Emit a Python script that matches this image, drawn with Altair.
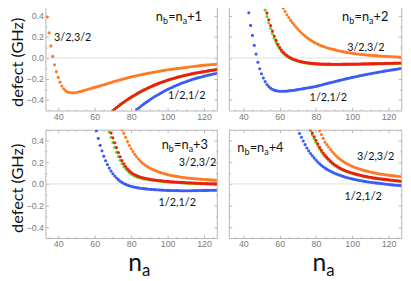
import altair as alt
import pandas as pd

NA_TICKS = [40, 60, 80, 100, 120]
NA_MINOR = [35, 45, 50, 55, 65, 70, 75, 85, 90, 95, 105, 110, 115, 125]
DEFECT_TICKS = [-0.4, -0.2, 0.0, 0.2, 0.4]
DEFECT_MINOR = [-0.3, -0.1, 0.1, 0.3, 0.5]
SERIES = ["3/2,1/2", "1/2,1/2", "1/2,3/2", "3/2,3/2"]
COLORS = ["#66d82c", "#3b5bf6", "#f01c10", "#ff7a26"]
OFFSETS = ["+1", "+2", "+3", "+4"]

# ---- panel 1: n_b = n_a + 1 ----
P1_ORANGE_START = 34
P1_ORANGE = [0.39, 0.24, 0.115, 0.015, -0.065, -0.13, -0.185, -0.23, -0.267, -0.293,
             -0.31, -0.321, -0.328, -0.331, -0.332, -0.331, -0.328, -0.324, -0.32, -0.315,
             -0.31, -0.305, -0.3, -0.295, -0.29, -0.285, -0.28, -0.275, -0.27, -0.265,
             -0.26, -0.255, -0.249, -0.244, -0.238, -0.233, -0.227, -0.222, -0.218, -0.213,
             -0.208, -0.203, -0.199, -0.194, -0.189, -0.185, -0.18, -0.176, -0.173, -0.169,
             -0.165, -0.161, -0.158, -0.154, -0.15, -0.147, -0.143, -0.14, -0.137, -0.134,
             -0.131, -0.127, -0.124, -0.121, -0.118, -0.115, -0.112, -0.11, -0.108, -0.105,
             -0.103, -0.101, -0.099, -0.097, -0.095, -0.092, -0.09, -0.088, -0.086, -0.083,
             -0.081, -0.079, -0.077, -0.075, -0.073, -0.07, -0.068, -0.067, -0.066, -0.064,
             -0.063, -0.062, -0.061, -0.059]
P1_RED_START = 70
P1_RED = [-0.5, -0.485, -0.471, -0.457, -0.444, -0.431, -0.419, -0.407, -0.395, -0.384,
          -0.373, -0.362, -0.352, -0.342, -0.332, -0.322, -0.313, -0.304, -0.295, -0.287,
          -0.279, -0.271, -0.263, -0.256, -0.249, -0.242, -0.235, -0.229, -0.223, -0.217,
          -0.211, -0.205, -0.2, -0.195, -0.19, -0.185, -0.18, -0.176, -0.171, -0.167,
          -0.163, -0.159, -0.155, -0.151, -0.148, -0.144, -0.141, -0.138, -0.135, -0.132,
          -0.129, -0.126, -0.123, -0.12, -0.117, -0.115, -0.112, -0.11]
P1_GREEN_START = 70
P1_GREEN = [-0.503, -0.488, -0.474, -0.46, -0.447, -0.434, -0.422, -0.41, -0.398, -0.387,
            -0.376, -0.365, -0.355, -0.345, -0.335, -0.325, -0.316, -0.307, -0.298, -0.29,
            -0.282, -0.274, -0.266, -0.259, -0.252, -0.245, -0.238, -0.232, -0.226, -0.22,
            -0.214, -0.208, -0.203, -0.198, -0.193, -0.188, -0.183, -0.179, -0.174, -0.17,
            -0.166, -0.162, -0.158, -0.154, -0.151, -0.147, -0.144, -0.141, -0.138, -0.135,
            -0.132, -0.129, -0.126, -0.123, -0.12, -0.118, -0.115, -0.113]
P1_BLUE_START = 83
P1_BLUE = [-0.492, -0.478, -0.464, -0.45, -0.437, -0.425, -0.413, -0.401, -0.389, -0.378,
           -0.367, -0.357, -0.347, -0.337, -0.327, -0.317, -0.308, -0.299, -0.291, -0.283,
           -0.275, -0.267, -0.259, -0.252, -0.245, -0.238, -0.232, -0.226, -0.22, -0.214,
           -0.208, -0.202, -0.197, -0.192, -0.187, -0.183, -0.178, -0.173, -0.169, -0.165,
           -0.161, -0.157, -0.153, -0.15, -0.146]

# ---- panel 2: n_b = n_a + 2 ----
P2_BLUE_START = 43
P2_BLUE = [0.43, 0.31, 0.215, 0.12, 0.037, -0.04, -0.103, -0.15, -0.19, -0.225,
           -0.252, -0.272, -0.287, -0.298, -0.306, -0.311, -0.314, -0.316, -0.317, -0.317,
           -0.316, -0.315, -0.313, -0.311, -0.309, -0.307, -0.304, -0.301, -0.298, -0.295,
           -0.292, -0.289, -0.286, -0.283, -0.28, -0.277, -0.274, -0.271, -0.266, -0.262,
           -0.257, -0.253, -0.248, -0.244, -0.239, -0.235, -0.231, -0.226, -0.222, -0.218,
           -0.213, -0.209, -0.205, -0.201, -0.197, -0.193, -0.189, -0.185, -0.181, -0.178,
           -0.174, -0.17, -0.167, -0.163, -0.16, -0.156, -0.153, -0.15, -0.146, -0.143,
           -0.14, -0.137, -0.134, -0.131, -0.128, -0.125, -0.122, -0.119, -0.116, -0.113,
           -0.111, -0.108, -0.105, -0.103, -0.1]
P2_RED_START = 51
P2_RED = [0.56, 0.49, 0.427, 0.364, 0.308, 0.256, 0.209, 0.168, 0.131, 0.1,
          0.075, 0.055, 0.038, 0.024, 0.012, 0.002, -0.007, -0.014, -0.02, -0.026,
          -0.031, -0.035, -0.039, -0.042, -0.045, -0.047, -0.049, -0.051, -0.053, -0.054,
          -0.055, -0.056, -0.057, -0.058, -0.058, -0.059, -0.059, -0.059, -0.06, -0.06,
          -0.06, -0.06, -0.06, -0.06, -0.059, -0.059, -0.059, -0.059, -0.058, -0.058,
          -0.058, -0.057, -0.057, -0.057, -0.056, -0.056, -0.056, -0.055, -0.055, -0.054,
          -0.054, -0.054, -0.053, -0.053, -0.052, -0.052, -0.052, -0.051, -0.051, -0.05,
          -0.05, -0.05, -0.049, -0.049, -0.048, -0.048, -0.048]
P2_GREEN_START = 51
P2_GREEN = [0.52, 0.455, 0.394, 0.335, 0.281, 0.232, 0.188, 0.149, 0.115, 0.087,
            0.064, 0.045, 0.03, 0.017, 0.006, -0.004, -0.012, -0.019, -0.025, -0.03,
            -0.036, -0.04, -0.044, -0.047, -0.05, -0.052, -0.054, -0.056, -0.058, -0.059,
            -0.06, -0.061, -0.062, -0.062, -0.063, -0.063, -0.063, -0.063, -0.064, -0.064,
            -0.064, -0.064, -0.064, -0.064, -0.063, -0.063, -0.063, -0.063, -0.062, -0.062,
            -0.062, -0.061, -0.061, -0.061, -0.06, -0.06, -0.06, -0.059, -0.059, -0.058,
            -0.058, -0.058, -0.057, -0.057, -0.056, -0.056, -0.056, -0.055, -0.055, -0.054,
            -0.054, -0.054, -0.053, -0.053, -0.052, -0.052, -0.052]
P2_ORANGE_START = 60
P2_ORANGE = [0.55, 0.51, 0.474, 0.442, 0.412, 0.385, 0.36, 0.337, 0.315, 0.294,
             0.275, 0.257, 0.24, 0.224, 0.209, 0.195, 0.182, 0.17, 0.159, 0.149,
             0.14, 0.132, 0.124, 0.117, 0.11, 0.104, 0.098, 0.093, 0.088, 0.084,
             0.079, 0.075, 0.071, 0.067, 0.063, 0.06, 0.056, 0.053, 0.05, 0.047,
             0.045, 0.042, 0.04, 0.038, 0.036, 0.034, 0.032, 0.03, 0.029, 0.027,
             0.026, 0.024, 0.023, 0.022, 0.02, 0.019, 0.018, 0.017, 0.016, 0.015,
             0.014, 0.013, 0.012, 0.011, 0.01, 0.009, 0.008, 0.007]

# ---- panel 3: n_b = n_a + 3 ----
P3_BLUE_START = 61
P3_BLUE = [0.49, 0.42, 0.356, 0.305, 0.256, 0.214, 0.178, 0.146, 0.118, 0.094,
           0.073, 0.055, 0.039, 0.025, 0.014, 0.004, -0.004, -0.011, -0.017, -0.022,
           -0.027, -0.031, -0.034, -0.037, -0.04, -0.042, -0.044, -0.046, -0.048, -0.049,
           -0.051, -0.052, -0.053, -0.054, -0.055, -0.056, -0.057, -0.058, -0.059, -0.06,
           -0.06, -0.061, -0.061, -0.062, -0.062, -0.062, -0.063, -0.063, -0.063, -0.063,
           -0.063, -0.063, -0.063, -0.062, -0.062, -0.062, -0.061, -0.061, -0.061, -0.06,
           -0.06, -0.06, -0.059, -0.059, -0.059, -0.058, -0.058]
P3_RED_START = 69
P3_RED = [0.47, 0.425, 0.38, 0.335, 0.29, 0.25, 0.215, 0.186, 0.16, 0.139,
          0.121, 0.106, 0.094, 0.084, 0.076, 0.069, 0.063, 0.058, 0.054, 0.05,
          0.047, 0.044, 0.041, 0.038, 0.036, 0.034, 0.032, 0.03, 0.028, 0.026,
          0.024, 0.023, 0.021, 0.02, 0.019, 0.018, 0.016, 0.015, 0.014, 0.013,
          0.012, 0.011, 0.01, 0.009, 0.009, 0.008, 0.007, 0.006, 0.006, 0.005,
          0.004, 0.004, 0.003, 0.003, 0.002, 0.001, 0.001, 0.0, 0.0]
P3_GREEN_START = 68
P3_GREEN = [0.48, 0.43, 0.383, 0.337, 0.293, 0.253, 0.218, 0.188, 0.162, 0.14,
            0.121, 0.105, 0.092, 0.081, 0.072, 0.065, 0.059, 0.054, 0.05, 0.046,
            0.043, 0.04, 0.037, 0.035, 0.033, 0.031, 0.029, 0.027, 0.025, 0.023,
            0.021, 0.02, 0.019, 0.017, 0.016, 0.015, 0.014, 0.013, 0.012, 0.011,
            0.01, 0.009, 0.008, 0.007, 0.006, 0.006, 0.005, 0.004, 0.003, 0.003,
            0.002, 0.001, 0.001, 0.0, 0.0, -0.001, -0.001, -0.002, -0.002, -0.003]
P3_ORANGE_START = 75
P3_ORANGE = [0.5, 0.468, 0.43, 0.39, 0.355, 0.325, 0.298, 0.273, 0.25, 0.23,
             0.212, 0.196, 0.182, 0.17, 0.159, 0.149, 0.14, 0.132, 0.125, 0.118,
             0.112, 0.106, 0.1, 0.095, 0.09, 0.086, 0.082, 0.078, 0.075, 0.072,
             0.069, 0.066, 0.063, 0.061, 0.059, 0.057, 0.055, 0.053, 0.051, 0.049,
             0.048, 0.046, 0.045, 0.044, 0.042, 0.041, 0.04, 0.039, 0.038, 0.037,
             0.036, 0.035, 0.034]

# ---- panel 4: n_b = n_a + 4 ----
P4_BLUE_START = 70
P4_BLUE = [0.51, 0.465, 0.43, 0.396, 0.363, 0.331, 0.305, 0.281, 0.26, 0.24,
           0.22, 0.202, 0.186, 0.171, 0.158, 0.146, 0.136, 0.126, 0.117, 0.109,
           0.101, 0.094, 0.087, 0.081, 0.075, 0.069, 0.064, 0.059, 0.054, 0.05,
           0.046, 0.042, 0.038, 0.035, 0.032, 0.029, 0.026, 0.023, 0.02, 0.018,
           0.015, 0.013, 0.011, 0.009, 0.007, 0.005, 0.003, 0.001, -0.001, -0.003,
           -0.005, -0.007, -0.009, -0.01, -0.012, -0.013, -0.015, -0.016]
P4_RED_START = 77
P4_RED = [0.505, 0.47, 0.435, 0.403, 0.37, 0.337, 0.31, 0.285, 0.265, 0.245,
          0.227, 0.21, 0.195, 0.181, 0.169, 0.158, 0.148, 0.139, 0.131, 0.124,
          0.117, 0.111, 0.105, 0.1, 0.095, 0.09, 0.086, 0.082, 0.078, 0.074,
          0.07, 0.067, 0.064, 0.061, 0.058, 0.055, 0.053, 0.05, 0.048, 0.046,
          0.044, 0.042, 0.04, 0.038, 0.036, 0.034, 0.032, 0.03, 0.029, 0.027,
          0.026]
P4_GREEN_START = 77
P4_GREEN = [0.49, 0.452, 0.418, 0.385, 0.353, 0.323, 0.297, 0.274, 0.254, 0.235,
            0.218, 0.202, 0.187, 0.174, 0.163, 0.152, 0.143, 0.134, 0.127, 0.119,
            0.113, 0.107, 0.101, 0.096, 0.091, 0.087, 0.083, 0.079, 0.075, 0.071,
            0.067, 0.064, 0.061, 0.058, 0.055, 0.052, 0.05, 0.047, 0.045, 0.043,
            0.041, 0.039, 0.037, 0.035, 0.033, 0.031, 0.029, 0.027, 0.026, 0.024,
            0.023]
P4_ORANGE_START = 82
P4_ORANGE = [0.49, 0.455, 0.42, 0.386, 0.362, 0.34, 0.318, 0.297, 0.278, 0.261,
             0.245, 0.231, 0.219, 0.208, 0.197, 0.187, 0.178, 0.17, 0.162, 0.155,
             0.149, 0.143, 0.137, 0.132, 0.127, 0.122, 0.118, 0.114, 0.11, 0.106,
             0.102, 0.099, 0.096, 0.093, 0.09, 0.088, 0.085, 0.083, 0.08, 0.078,
             0.076, 0.074, 0.072, 0.07, 0.068, 0.066]

LEFT_DOMAIN = [33, 127]
RIGHT_DOMAIN = [32, 127]
GRAY = "#7c7c7c"
FRAME = "#b5b5b5"
LABEL_FONT = "Liberation Sans"
TEXT_FONT = "Lato"


def table(parts):
    rows = []
    for name, start, vals in parts:
        for i, v in enumerate(vals):
            n = start + i
            if n <= 127:
                rows.append({"n": n, "v": v, "s": name})
    return pd.DataFrame(rows)


def tick_axis(orient, values, labels=False, size=3, **kw):
    return alt.Axis(orient=orient, values=values, labels=labels, title=None,
                    ticks=True, tickSize=size, offset=-size, tickColor=FRAME,
                    domain=False, grid=False, labelColor=GRAY, labelFont=LABEL_FONT,
                    labelFontSize=9, labelPadding=2, **kw)


def blank(xs, ys, xaxis, yaxis):
    return alt.Chart(pd.DataFrame({"d": [0]})).mark_text(text="").encode(
        x=alt.XDatum(60, scale=xs, axis=xaxis), y=alt.YDatum(0, scale=ys, axis=yaxis))


def panel(df, xdom, w, ydom, h, left, bottom, suffix, title_x, title_base, labels, title_y):
    xs = alt.Scale(domain=xdom, nice=False, zero=False)
    ys = alt.Scale(domain=ydom, nice=False, zero=False)

    if left:
        yax = alt.Axis(orient="left", values=DEFECT_TICKS, format=".1f", labels=True,
                       title="defect (GHz)", titleFont=TEXT_FONT, titleFontSize=16.5,
                       titleFontWeight="normal", titleColor="#111111", titlePadding=1,
                       titleY=title_y, ticks=True, tickSize=3, offset=-3, tickColor=FRAME,
                       domain=False, grid=False, labelColor=GRAY, labelFont=LABEL_FONT,
                       labelFontSize=9, labelPadding=2)
    else:
        yax = tick_axis("left", DEFECT_TICKS)

    zero = alt.Chart(pd.DataFrame({"v": [0.0]})).mark_rule(
        color="#dedede", strokeWidth=1).encode(
        y=alt.Y("v:Q", scale=ys, axis=tick_axis("right", DEFECT_TICKS)))

    pts = alt.Chart(df).mark_circle(size=10, opacity=1, clip=True).encode(
        x=alt.X("n:Q", scale=xs, axis=tick_axis("bottom", NA_TICKS, labels=True)),
        y=alt.Y("v:Q", scale=ys, axis=yax),
        color=alt.Color("s:N", scale=alt.Scale(domain=SERIES, range=COLORS), legend=None),
    )

    layers = [zero, pts,
              blank(xs, ys, tick_axis("bottom", NA_MINOR, size=1.5),
                    tick_axis("left", DEFECT_MINOR, size=1.5)),
              blank(xs, ys, tick_axis("top", NA_MINOR, size=1.5),
                    tick_axis("right", DEFECT_MINOR, size=1.5))]
    for k, (txt, nx, vy, al) in enumerate(labels):
        xd = alt.XDatum(nx, scale=xs,
                        axis=tick_axis("top", NA_TICKS) if k == 0 else None)
        yd = alt.YDatum(vy, scale=ys, axis=None)
        layers.append(alt.Chart(pd.DataFrame({"d": [0]})).mark_text(
            text=txt, font=TEXT_FONT, fontSize=11, color="#111111", align=al,
            baseline="middle").encode(x=xd, y=yd))

    segs = [("n", 0.0, 13, 0), ("b", 7.3, 9, 3), ("=n", 12.6, 13, 0),
            ("a", 27.4, 9, 3), (suffix, 31.9, 13, 0)]
    for txt, dx, fs, dy in segs:
        layers.append(alt.Chart(pd.DataFrame({"d": [0]})).mark_text(
            text=txt, font=TEXT_FONT, fontSize=fs, color="#111111", align="left",
            baseline="alphabetic").encode(x=alt.value(title_x + dx),
                                          y=alt.value(title_base + dy)))
    if bottom:
        for txt, dx, fs, dy in [("n", 84 if left else 85, 25, 143),
                                ("a", 98 if left else 99, 17, 148)]:
            layers.append(alt.Chart(pd.DataFrame({"d": [0]})).mark_text(
                text=txt, font=TEXT_FONT, fontSize=fs, color="#111111", align="left",
                baseline="alphabetic").encode(x=alt.value(dx), y=alt.value(dy)))

    return alt.layer(*layers).resolve_axis(x="independent", y="independent").properties(
        width=w, height=h)


d1 = table([("3/2,1/2", P1_GREEN_START, P1_GREEN), ("1/2,1/2", P1_BLUE_START, P1_BLUE),
            ("1/2,3/2", P1_RED_START, P1_RED), ("3/2,3/2", P1_ORANGE_START, P1_ORANGE)])
d2 = table([("3/2,1/2", P2_GREEN_START, P2_GREEN), ("1/2,1/2", P2_BLUE_START, P2_BLUE),
            ("1/2,3/2", P2_RED_START, P2_RED), ("3/2,3/2", P2_ORANGE_START, P2_ORANGE)])
d3 = table([("3/2,1/2", P3_GREEN_START, P3_GREEN), ("1/2,1/2", P3_BLUE_START, P3_BLUE),
            ("1/2,3/2", P3_RED_START, P3_RED), ("3/2,3/2", P3_ORANGE_START, P3_ORANGE)])
d4 = table([("3/2,1/2", P4_GREEN_START, P4_GREEN), ("1/2,1/2", P4_BLUE_START, P4_BLUE),
            ("1/2,3/2", P4_RED_START, P4_RED), ("3/2,3/2", P4_ORANGE_START, P4_ORANGE)])

TOP_DOM = [-0.5, 0.55]
BOT_DOM = [-0.5, 0.5]

p1 = panel(d1, LEFT_DOMAIN, 174, TOP_DOM, 112, True, False, OFFSETS[0], 112, 21.3,
           [("3/2,3/2", 37.7, 0.19, "left"), ("1/2,1/2", 110.5, -0.367, "center")], 62.6)
p2 = panel(d2, RIGHT_DOMAIN, 175, TOP_DOM, 112, False, False, OFFSETS[1], 115, 21.3,
           [("3/2,3/2", 107.5, 0.09, "center"), ("1/2,1/2", 86.8, -0.38, "center")], 62.6)
p3 = panel(d3, LEFT_DOMAIN, 174, BOT_DOM, 110, True, True, OFFSETS[2], 118, 19.5,
           [("3/2,3/2", 116.4, 0.19, "center"), ("1/2,1/2", 105.3, -0.18, "center")], 59)
p4 = panel(d4, RIGHT_DOMAIN, 175, BOT_DOM, 110, False, True, OFFSETS[3], 8.5, 22.8,
           [("3/2,3/2", 112.9, 0.25, "center"), ("1/2,1/2", 106.0, -0.12, "center")], 59)

chart = alt.concat(p1, p2, p3, p4, columns=2, spacing={"row": 19.5, "column": 12.2},
                   bounds="flush").properties(
    padding={"left": 0, "top": -11, "right": 0, "bottom": 0},
    background="white",
).configure_view(stroke=FRAME, strokeWidth=1)

chart.save("out.html", embed_options={"renderer": "svg", "actions": False})
